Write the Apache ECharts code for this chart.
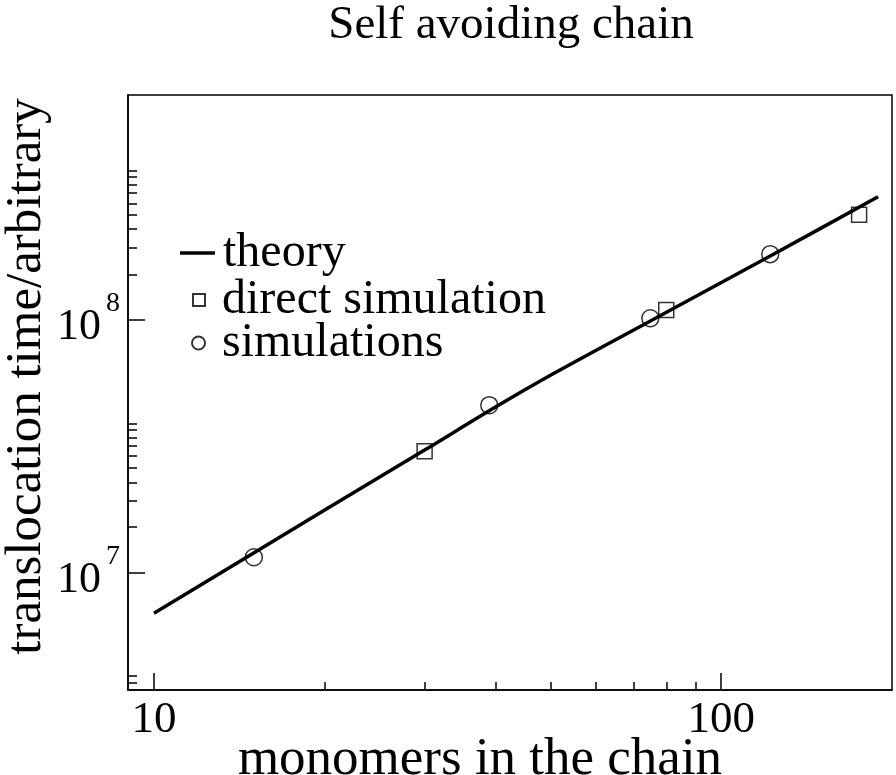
<!DOCTYPE html>
<html>
<head>
<meta charset="utf-8">
<script src="https://cdn.jsdelivr.net/npm/echarts@6/dist/echarts.min.js"></script>
<style>html,body{margin:0;padding:0;background:#fff;}#c{width:896px;height:775px;}</style>
</head>
<body>
<div id="c"></div>
<script>
// ---- data ----
var theoryN = [10, 20, 30, 40, 50, 75, 122, 189];
var theoryT = [6.89e6, 1.763e7, 3.043e7, 4.50e7, 6.01e7, 9.85e7, 1.78e8, 3.05e8];
var directN = [30, 80, 175];
var directT = [3.01e7, 1.088e8, 2.59e8];
var simN = [15, 39, 75, 122];
var simT = [1.147e7, 4.58e7, 1.01e8, 1.81e8];
var xMajorTicks = [10, 100];
var xMinorTicks = [20, 30, 40, 50, 60, 70, 80, 90];
var yMajorTicks = [1e7, 1e8];
var yMinorTicks = [3.67e6, 3.90e6, 1.51e7, 1.92e7, 2.27e7, 2.58e7, 2.88e7, 3.16e7, 3.40e7, 3.65e7, 3.88e7,
                   1.50e8, 1.91e8, 2.27e8, 2.58e8, 2.87e8, 3.15e8, 3.40e8, 3.65e8, 3.87e8];
var xRange = [9, 200];
var yRange = [3.43e6, 7.70e8];

var FONT = '"Liberation Serif", "DejaVu Serif", serif';
function pairs(a, b) { return a.map(function (v, i) { return [v, b[i]]; }); }

var chart = echarts.init(document.getElementById('c'), null, {renderer: 'canvas'});
var legendBase = {
  orient: 'vertical', left: 180, itemGap: 0, padding: 0,
  textStyle: {fontFamily: FONT, fontSize: 48, color: '#000', lineHeight: 46}
};
var option = {
  animation: false,
  backgroundColor: '#fff',
  title: {
    text: 'Self avoiding chain', left: 506, top: -3, textAlign: 'center',
    textStyle: {fontFamily: FONT, fontSize: 47, fontWeight: 'normal', color: '#000'}
  },
  grid: {left: 128, top: 95, width: 764, height: 595, containLabel: false, outerBoundsMode: 'none',
    show: true, borderColor: '#000', borderWidth: 1.5, backgroundColor: 'transparent'},
  legend: [
    Object.assign({}, legendBase, {top: 229, data: [{name: 'theory', icon: 'rect'}], itemWidth: 35, itemHeight: 3.5,
      textStyle: Object.assign({}, legendBase.textStyle, {padding: [0, 0, 0, 3]})}),
    Object.assign({}, legendBase, {top: 276, left: 192, data: [{name: 'direct simulation', icon: 'rect'}], itemWidth: 12, itemHeight: 12,
      textStyle: Object.assign({}, legendBase.textStyle, {padding: [0, 0, 0, 12]})}),
    Object.assign({}, legendBase, {top: 319, left: 191, data: [{name: 'simulations', icon: 'circle'}], itemWidth: 13, itemHeight: 13,
      textStyle: Object.assign({}, legendBase.textStyle, {padding: [0, 0, 0, 12]})})
  ],
  xAxis: [{
    type: 'log', logBase: 10, min: xRange[0], max: xRange[1], position: 'bottom',
    name: 'monomers in the chain', nameLocation: 'middle', nameGap: 44, nameMoveOverlap: false,
    nameTextStyle: {fontFamily: FONT, fontSize: 53, color: '#000', padding: [0, 60, 0, 0]},
    axisLine: {show: true, lineStyle: {color: '#000', width: 1.5}},
    axisTick: {show: true, inside: true, length: 17, customValues: xMajorTicks, lineStyle: {color: '#000', width: 1.5}},
    axisLabel: {show: true, customValues: xMajorTicks, margin: 8, fontFamily: FONT, fontSize: 45, color: '#000'},
    splitLine: {show: false}, minorTick: {show: false}
  }, {
    type: 'log', logBase: 10, min: xRange[0], max: xRange[1], position: 'bottom',
    axisLine: {show: false},
    axisTick: {show: true, inside: true, length: 8, customValues: xMinorTicks, lineStyle: {color: '#000', width: 1.5}},
    axisLabel: {show: false}, splitLine: {show: false}
  }],
  yAxis: [{
    type: 'log', logBase: 10, min: yRange[0], max: yRange[1], position: 'left',
    name: 'translocation time/arbitrary', nameLocation: 'middle', nameGap: 76, nameRotate: 90, nameMoveOverlap: false,
    nameTextStyle: {fontFamily: FONT, fontSize: 51, color: '#000', padding: [0, 0, 0, 32]},
    axisLine: {show: true, lineStyle: {color: '#000', width: 1.5}},
    axisTick: {show: true, inside: true, length: 17, customValues: yMajorTicks, lineStyle: {color: '#000', width: 1.5}},
    axisLabel: {
      show: true, customValues: yMajorTicks, margin: 8, color: '#000',
      formatter: function (v) { return '{b|10}{s|' + Math.round(Math.log10(v)) + '}'; },
      rich: {
        b: {fontFamily: FONT, fontSize: 44, color: '#000', verticalAlign: 'bottom', padding: [16, 0, 0, 0]},
        s: {fontFamily: FONT, fontSize: 28, color: '#000', verticalAlign: 'top', padding: [0, 0, 0, 5]}
      }
    },
    splitLine: {show: false}
  }, {
    type: 'log', logBase: 10, min: yRange[0], max: yRange[1], position: 'left',
    axisLine: {show: false},
    axisTick: {show: true, inside: true, length: 9, customValues: yMinorTicks, lineStyle: {color: '#000', width: 1.5}},
    axisLabel: {show: false}, splitLine: {show: false}
  }],
  series: [{
    name: 'theory', type: 'line', data: pairs(theoryN, theoryT), symbol: 'none', smooth: 0.3,
    lineStyle: {color: '#000', width: 3.5}, itemStyle: {color: '#000'}, z: 2
  }, {
    name: 'direct simulation', type: 'scatter', data: pairs(directN, directT), symbol: 'rect', symbolSize: 15,
    itemStyle: {color: 'rgba(255,255,255,0)', borderColor: '#000', borderWidth: 1.5}, z: 3
  }, {
    name: 'simulations', type: 'scatter', data: pairs(simN, simT), symbol: 'circle', symbolSize: 17,
    itemStyle: {color: 'rgba(255,255,255,0)', borderColor: '#000', borderWidth: 1.5}, z: 3
  }]
};
chart.setOption(option);
</script>
</body>
</html>
